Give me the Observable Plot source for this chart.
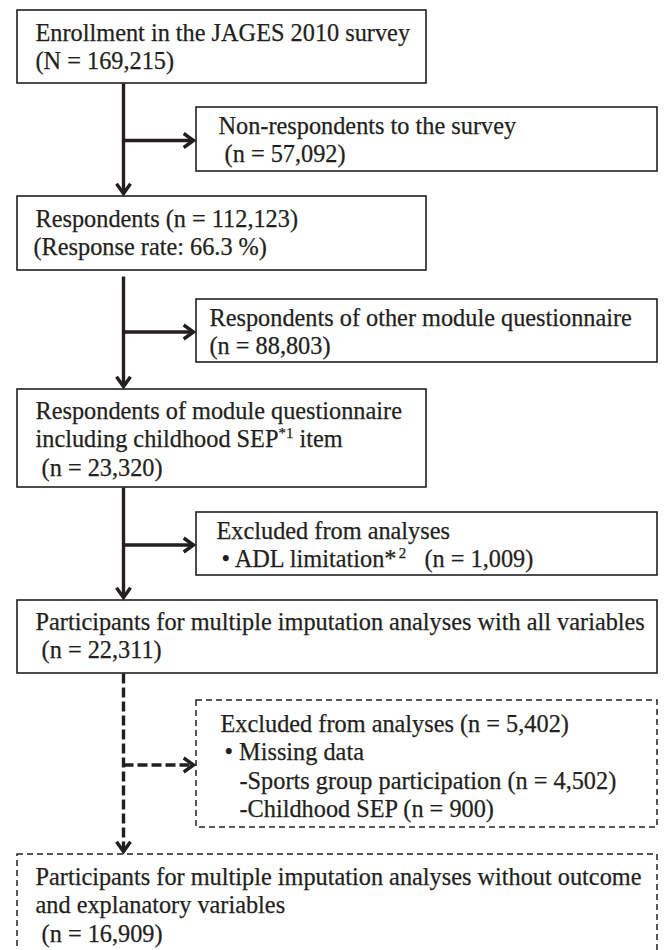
<!DOCTYPE html>
<html>
<head>
<meta charset="utf-8">
<script src="https://cdn.jsdelivr.net/npm/d3@7"></script>
<script src="https://cdn.jsdelivr.net/npm/@observablehq/plot@0.6"></script>
<style>
  html, body { margin: 0; padding: 0; background: #fff; overflow: hidden; }
  #chart svg { display: block; }
</style>
</head>
<body>
<div id="chart"></div>
<script>
// ---------------- data ----------------
const counts = [169215, 57092, 112123, 88803, 23320, 1009, 22311, 5402, 16909];
const responseRate = 66.3;
const missingItems = ["Sports group participation", "Childhood SEP"];
const missingCounts = [4502, 900];
const stepNames = [
  "Enrollment in the JAGES 2010 survey",
  "Non-respondents to the survey",
  "Respondents",
  "Respondents of other module questionnaire",
  "Respondents of module questionnaire",
  "Excluded from analyses",
  "Participants for multiple imputation analyses with all variables",
  "Excluded from analyses",
  "Participants for multiple imputation analyses without outcome"
];
const footnoteMarks = ["*1", "*2"];

// ---------------- layout ----------------
const W = 665, H = 950;
const INK = "#231f20";
const FS = 24.3, SUP = 15, LINE = 28.5;
const COL = 123;                 // x of the main flow line
const boxes = [
  {x1: 17,  x2: 426, y1: 10,  y2: 83},
  {x1: 196, x2: 657, y1: 107, y2: 171},
  {x1: 17,  x2: 426, y1: 196, y2: 270},
  {x1: 196, x2: 657, y1: 299, y2: 362},
  {x1: 17,  x2: 426, y1: 389, y2: 487},
  {x1: 196, x2: 657, y1: 512, y2: 575},
  {x1: 17,  x2: 657, y1: 600, y2: 673},
  {x1: 196, x2: 657, y1: 700, y2: 827, dashed: true},
  {x1: 17,  x2: 657, y1: 854, y2: 990, dashed: true}
];
const indents = [[18,18],[22,22],[18,16],[13,13],[18,18,18],[20,25],[18,18],[24,28,43,43],[18,18,18]];
const firstBaseline = [30, 26, 30, 26, 29, 26, 29, 31, 30];
// trunk: [from box, to box, gap below source]
const trunk = [[0, 2, 0], [2, 4, 6], [4, 6, 0], [6, 8, 0]];
const branches = [1, 3, 5, 7];

// ---------------- text ----------------
const fmt = d3.format(",");
const boxText = [
  [[stepNames[0]], [`(N = ${fmt(counts[0])})`]],
  [[stepNames[1]], [` (n = ${fmt(counts[1])})`]],
  [[`${stepNames[2]} (n = ${fmt(counts[2])})`], [`(Response rate: ${responseRate} %)`]],
  [[stepNames[3]], [`(n = ${fmt(counts[3])})`]],
  [[stepNames[4]], ["including childhood SEP", {sup: footnoteMarks[0]}, " item"], [` (n = ${fmt(counts[4])})`]],
  [[stepNames[5]], ["\u2022 ADL limitation*", {sup: footnoteMarks[1].slice(1)}, `   (n = ${fmt(counts[5])})`]],
  [[stepNames[6]], [` (n = ${fmt(counts[6])})`]],
  [[`${stepNames[7]} (n = ${fmt(counts[7])})`], ["\u2022 Missing data"],
    ...missingItems.map((m, i) => [`-${m} (n = ${fmt(missingCounts[i])})`])],
  [[stepNames[8]], ["and explanatory variables"], [` (n = ${fmt(counts[8])})`]]
];

const ctx = document.createElement("canvas").getContext("2d");
const measure = (t, fs) => { ctx.font = `${fs}px "Liberation Serif"`; return ctx.measureText(t).width; };

const rows = [];
boxText.forEach((lines, i) => {
  const b = boxes[i];
  lines.forEach((segs, j) => {
    let x = b.x1 + indents[i][j];
    const y = b.y1 + firstBaseline[i] + j * LINE;
    segs.forEach(s => {
      if (typeof s === "string") {
        rows.push({x, y, text: s, size: FS});
        x += measure(s, FS);
      } else {
        rows.push({x, y: y - 9, text: s.sup, size: SUP});
        x += measure(s.sup, SUP);
      }
    });
  });
});

// ---------------- connectors ----------------
const TIP = 3;
const links = [], headsDown = [], headsRight = [];
trunk.forEach(([a, b, gap]) => {
  const dashed = !!boxes[b].dashed;
  const yEnd = boxes[b].y1 - TIP;
  links.push({x1: COL, y1: boxes[a].y2 + gap, x2: COL, y2: yEnd, dashed});
  headsDown.push({x: COL, y: yEnd});
});
branches.forEach(k => {
  const bx = boxes[k];
  const y = (bx.y1 + bx.y2) / 2 + 1;
  const xEnd = bx.x1 - TIP;
  links.push({x1: COL, y1: y, x2: xEnd, y2: y, dashed: !!bx.dashed});
  headsRight.push({x: xEnd, y});
});

const chevron = {
  draw(c, size) {
    const r = Math.sqrt(size / Math.PI);
    c.moveTo(-r, -r * 1.4);
    c.lineTo(0, 0);
    c.lineTo(r, -r * 1.4);
  }
};

const plot = Plot.plot({
  width: W, height: H, margin: 0,
  x: {domain: [0, W], range: [0, W], axis: null},
  y: {domain: [0, H], range: [0, H], axis: null},
  style: {fontFamily: '"Liberation Serif", "Times New Roman", Times, serif', background: "#fff", color: INK},
  marks: [
    Plot.rect(boxes.filter(d => !d.dashed), {x1: "x1", x2: "x2", y1: "y1", y2: "y2", fill: "white", stroke: INK, strokeWidth: 1.6}),
    Plot.rect(boxes.filter(d => d.dashed), {x1: "x1", x2: "x2", y1: "y1", y2: "y2", fill: "white", stroke: INK, strokeWidth: 1.5, strokeDasharray: "6,4"}),
    Plot.link(links.filter(d => !d.dashed), {x1: "x1", y1: "y1", x2: "x2", y2: "y2", stroke: INK, strokeWidth: 3.4}),
    Plot.link(links.filter(d => d.dashed), {x1: "x1", y1: "y1", x2: "x2", y2: "y2", stroke: INK, strokeWidth: 3.4, strokeDasharray: "10,4"}),
    Plot.dot(headsDown, {x: "x", y: "y", symbol: chevron, r: 7, fill: "none", stroke: INK, strokeWidth: 3.4, strokeLinejoin: "miter"}),
    Plot.dot(headsRight, {x: "x", y: "y", symbol: chevron, r: 7, rotate: -90, fill: "none", stroke: INK, strokeWidth: 3.4, strokeLinejoin: "miter"}),
    Plot.text(rows, {x: "x", y: "y", text: "text", fontSize: d => d.size, textAnchor: "start", lineAnchor: "bottom", fill: INK, stroke: INK, strokeWidth: 0.25})
  ]
});
document.getElementById("chart").append(plot);
</script>
</body>
</html>
